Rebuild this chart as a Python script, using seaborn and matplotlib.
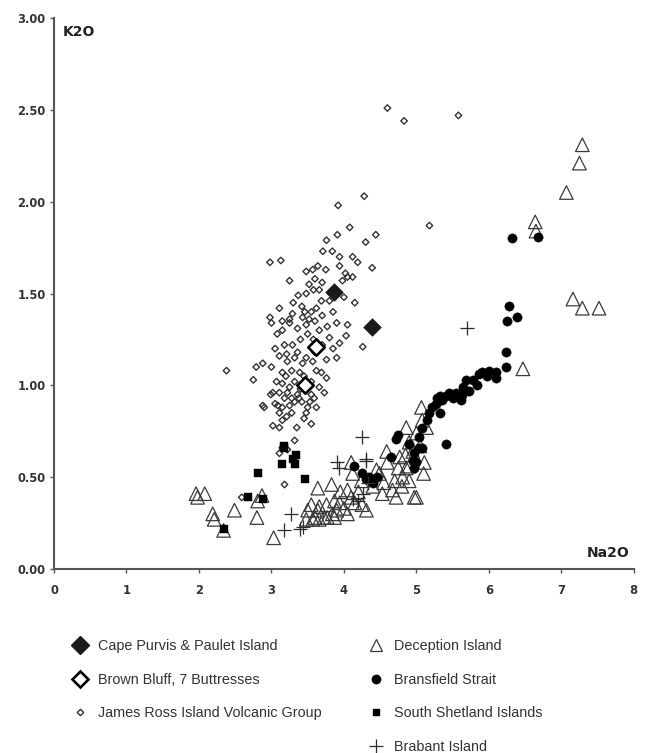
import numpy as np
import pandas as pd
import matplotlib
matplotlib.use("Agg")
import matplotlib.pyplot as plt
import seaborn as sns
from matplotlib.lines import Line2D

# --------------------------------------------
# DATA (Na2O, K2O)
# --------------------------------------------

cape_x = [3.87, 4.39]
cape_y = [1.51, 1.32]

brown_x = [3.62, 3.46]
brown_y = [1.21, 1.00]

jrivg_x = [4.60, 4.83, 5.58, 4.28, 3.92, 5.18, 4.08, 3.91, 3.76, 4.44, 4.30, 3.71, 3.84,
           3.94, 4.12, 4.19, 3.94, 3.75, 3.64, 3.57, 3.48, 4.39, 2.98, 3.13, 3.25, 4.02,
           4.05, 4.12, 3.98, 3.66, 3.58, 3.48, 3.37, 3.69, 3.80, 3.11, 3.42, 3.29, 2.98,
           3.00, 3.25, 3.43, 3.15, 3.25, 3.36, 3.48, 3.50, 3.66, 3.77, 3.90, 3.80, 3.94,
           4.03, 4.05, 4.26, 3.18, 3.29, 3.36, 3.21, 3.11, 3.22, 3.32, 3.48, 3.43, 3.57,
           3.76, 2.79, 2.88, 2.75, 3.15, 3.28, 3.39, 3.62, 3.69, 3.76, 3.07, 3.15, 3.25,
           3.32, 3.02, 2.99, 3.11, 3.22, 3.36, 3.55, 3.66, 3.73, 3.53, 3.42, 2.88, 2.90,
           3.09, 3.15, 3.25, 3.32, 3.11, 3.28, 3.21, 3.48, 3.62, 3.02, 3.11, 3.15, 3.35,
           3.55, 3.32, 3.15, 3.11, 3.22, 2.38, 3.18, 2.59, 3.59, 3.46, 3.55, 3.62, 3.52,
           3.60, 3.70, 3.85, 3.40, 3.58, 3.70, 3.85, 3.90, 3.60, 3.45, 3.55, 3.40, 3.50,
           3.45, 3.38, 3.28, 3.18, 3.05, 3.20, 4.15, 3.52, 3.70, 3.88, 4.00, 3.60, 3.30,
           3.15, 3.08, 3.05, 3.00]
jrivg_y = [2.51, 2.44, 2.47, 2.03, 1.98, 1.87, 1.86, 1.82, 1.79, 1.82, 1.78, 1.73, 1.73,
           1.70, 1.70, 1.67, 1.65, 1.63, 1.65, 1.63, 1.62, 1.64, 1.67, 1.68, 1.57, 1.61,
           1.59, 1.59, 1.57, 1.52, 1.52, 1.50, 1.49, 1.46, 1.46, 1.42, 1.43, 1.39, 1.37,
           1.34, 1.36, 1.37, 1.30, 1.34, 1.31, 1.33, 1.28, 1.30, 1.32, 1.34, 1.26, 1.23,
           1.27, 1.33, 1.21, 1.22, 1.22, 1.18, 1.17, 1.16, 1.13, 1.15, 1.15, 1.12, 1.13,
           1.14, 1.10, 1.12, 1.03, 1.07, 1.08, 1.07, 1.08, 1.07, 1.04, 1.02, 1.01, 0.99,
           1.02, 0.96, 0.95, 0.96, 0.96, 0.95, 0.95, 0.99, 0.96, 0.91, 0.91, 0.89, 0.88,
           0.89, 0.88, 0.89, 0.91, 0.85, 0.85, 0.83, 0.85, 0.88, 0.78, 0.77, 0.81, 0.77,
           0.79, 0.70, 0.66, 0.63, 0.65, 1.08, 0.46, 0.39, 0.93, 1.40, 1.40, 1.42, 1.36,
           1.35, 1.38, 1.40, 1.25, 1.25, 1.22, 1.20, 1.15, 1.18, 1.05, 1.02, 0.98, 0.88,
           0.82, 0.93, 0.93, 0.93, 0.90, 1.05, 1.45, 1.55, 1.56, 1.52, 1.48, 1.58, 1.45,
           1.35, 1.28, 1.20, 1.10]

decep_x = [7.29, 7.25, 7.07, 6.64, 6.65, 7.16, 7.29, 7.52, 6.47,
           1.96, 2.08, 1.98, 2.19, 2.21, 2.34, 2.49, 2.80, 2.81, 2.87, 3.03,
           3.64, 3.83, 3.55, 3.66, 3.76, 3.87, 3.48, 3.57, 3.66, 3.77, 3.87,
           3.50, 3.64, 3.90, 3.94, 3.60, 3.73, 3.84, 4.10, 4.12, 4.05, 4.10,
           4.31, 4.49, 4.53, 4.60, 4.70, 4.67, 4.81, 4.90, 5.00, 4.90, 5.00,
           5.08, 5.07, 5.14, 5.11, 4.86, 4.77, 4.59, 4.45, 4.24, 4.72, 4.97,
           4.86, 4.00, 4.05, 4.15, 4.20, 4.25, 3.95, 4.40, 4.55, 4.75, 4.85,
           4.95, 5.05, 4.80, 4.90, 5.10]
decep_y = [2.31, 2.21, 2.05, 1.89, 1.84, 1.47, 1.42, 1.42, 1.09,
           0.41, 0.41, 0.39, 0.30, 0.27, 0.21, 0.32, 0.28, 0.37, 0.40, 0.17,
           0.44, 0.46, 0.35, 0.34, 0.35, 0.37, 0.27, 0.27, 0.27, 0.28, 0.28,
           0.32, 0.32, 0.32, 0.36, 0.28, 0.28, 0.30, 0.58, 0.52, 0.43, 0.39,
           0.32, 0.52, 0.41, 0.58, 0.48, 0.43, 0.50, 0.56, 0.39, 0.69, 0.74,
           0.81, 0.88, 0.77, 0.58, 0.77, 0.61, 0.64, 0.54, 0.48, 0.39, 0.39,
           0.55, 0.33, 0.30, 0.36, 0.42, 0.35, 0.42, 0.45, 0.47, 0.55, 0.62,
           0.64, 0.67, 0.45, 0.48, 0.52]

brans_x = [6.32, 6.68, 6.28, 6.39, 6.25, 6.24, 6.24, 6.10, 6.10, 5.91, 5.87, 5.69, 5.83,
           5.73, 5.63, 5.61, 5.50, 5.41, 5.32, 5.27, 5.22, 5.32, 5.18, 5.14, 5.08, 5.04,
           5.04, 4.97, 4.95, 5.41, 4.74, 4.72, 4.14, 4.35, 4.31, 4.39, 4.40, 4.65, 5.00,
           4.97, 5.08, 5.28, 5.45, 5.55, 5.78, 5.97, 6.00, 5.65, 5.35, 4.25, 4.45, 4.90]
brans_y = [1.80, 1.81, 1.43, 1.37, 1.35, 1.18, 1.10, 1.07, 1.04, 1.07, 1.06, 1.03, 1.00,
           0.97, 0.95, 0.92, 0.93, 0.94, 0.94, 0.90, 0.88, 0.85, 0.85, 0.81, 0.77, 0.72,
           0.66, 0.63, 0.59, 0.68, 0.73, 0.71, 0.56, 0.50, 0.49, 0.48, 0.47, 0.61, 0.58,
           0.55, 0.66, 0.93, 0.96, 0.96, 1.03, 1.05, 1.08, 0.99, 0.92, 0.52, 0.50, 0.68]

shet_x = [2.82, 3.14, 3.17, 3.32, 3.34, 3.30, 3.47, 2.67, 2.89, 2.34, 3.18]
shet_y = [0.52, 0.57, 0.67, 0.57, 0.62, 0.60, 0.49, 0.39, 0.38, 0.22, 0.66]

brab_x = [3.27, 3.18, 3.39, 3.43, 5.70, 4.25, 3.91, 3.93, 4.31, 4.33, 4.19, 4.12, 4.26, 4.30]
brab_y = [0.30, 0.21, 0.22, 0.23, 1.31, 0.72, 0.58, 0.55, 0.59, 0.47, 0.37, 0.38, 0.41, 0.60]

labels_left = ["Cape Purvis & Paulet Island", "Brown Bluff, 7 Buttresses",
               "James Ross Island Volcanic Group"]
labels_right = ["Deception Island", "Bransfield Strait",
                "South Shetland Islands", "Brabant Island"]

# --------------------------------------------
# PLOT
# --------------------------------------------

sns.set_style("ticks")
plt.rcParams['font.family'] = ['Liberation Sans', 'DejaVu Sans']

fig = plt.figure(figsize=(6.46, 7.53), dpi=100)
ax = fig.add_axes([0.0836, 0.2444, 0.8975, 0.7316])

sns.scatterplot(x=jrivg_x, y=jrivg_y, marker="D", s=11, facecolor="none",
                edgecolor="#333333", linewidth=1.0, ax=ax)
sns.scatterplot(x=decep_x, y=decep_y, marker="^", s=95, facecolor="none",
                edgecolor="#3a3a3a", linewidth=0.9, ax=ax)
sns.scatterplot(x=brans_x, y=brans_y, marker="o", s=45, color="black",
                edgecolor="black", linewidth=0.3, ax=ax)
sns.scatterplot(x=shet_x, y=shet_y, marker="s", s=26, color="black",
                edgecolor="black", linewidth=0.3, ax=ax)
sns.scatterplot(x=brab_x, y=brab_y, marker="+", s=110, color="#2b2b2b",
                linewidth=0.9, ax=ax)
sns.scatterplot(x=brown_x, y=brown_y, marker="D", s=70, facecolor="white",
                edgecolor="black", linewidth=1.9, ax=ax)
sns.scatterplot(x=cape_x, y=cape_y, marker="D", s=80, color="#1a1a1a",
                edgecolor="#1a1a1a", linewidth=0.5, ax=ax)

ax.set_xlim(0, 8)
ax.set_ylim(0, 3)
ax.set_xticks(range(0, 9))
ax.set_yticks(np.arange(0, 3.01, 0.5))
ax.set_yticklabels([f"{v:.2f}" for v in np.arange(0, 3.01, 0.5)])
ax.set_xlabel("")
ax.set_ylabel("")

for side in ["top", "right"]:
    ax.spines[side].set_visible(False)
for side in ["left", "bottom"]:
    ax.spines[side].set_color("#555555")
    ax.spines[side].set_linewidth(1.5)

ax.tick_params(axis="both", colors="#555555", labelcolor="#333333",
               labelsize=8.3, length=3, width=1)
ax.tick_params(axis="x", pad=8)
ax.tick_params(axis="y", pad=3)
for lab in ax.get_xticklabels() + ax.get_yticklabels():
    lab.set_fontweight("bold")
    lab.set_family("DejaVu Sans")

ax.text(0.015, 0.988, "K2O", transform=ax.transAxes, ha="left", va="top",
        fontsize=10, fontweight="bold", color="#222222", family="DejaVu Sans")
ax.text(0.993, 0.022, "Na2O", transform=ax.transAxes, ha="right", va="baseline",
        fontsize=10, fontweight="bold", color="#222222", family="DejaVu Sans")

# --------------------------------------------
# LEGEND (two columns below the plot)
# --------------------------------------------

h_left = [
    Line2D([], [], ls="", marker="D", ms=9, mfc="#1a1a1a", mec="#1a1a1a"),
    Line2D([], [], ls="", marker="D", ms=8, mfc="white", mec="black", mew=1.9),
    Line2D([], [], ls="", marker="D", ms=3.3, mfc="none", mec="#333333", mew=1.0),
]
h_right = [
    Line2D([], [], ls="", marker="^", ms=8, mfc="none", mec="#3a3a3a", mew=0.9),
    Line2D([], [], ls="", marker="o", ms=6, mfc="black", mec="black"),
    Line2D([], [], ls="", marker="s", ms=4.5, mfc="black", mec="black"),
    Line2D([], [], ls="", marker="+", ms=10, mec="#2b2b2b", mew=0.9),
]

leg_kw = dict(frameon=False, loc="upper left", fontsize=10.4, handlelength=1.4,
              handletextpad=0.55, labelspacing=1.35, borderpad=0, borderaxespad=0,
              labelcolor="#333333")
fig.legend(h_left, labels_left, bbox_to_anchor=(0.108, 0.151), **leg_kw)
fig.legend(h_right, labels_right, bbox_to_anchor=(0.567, 0.151), **leg_kw)

plt.savefig("out.png", dpi=100)
